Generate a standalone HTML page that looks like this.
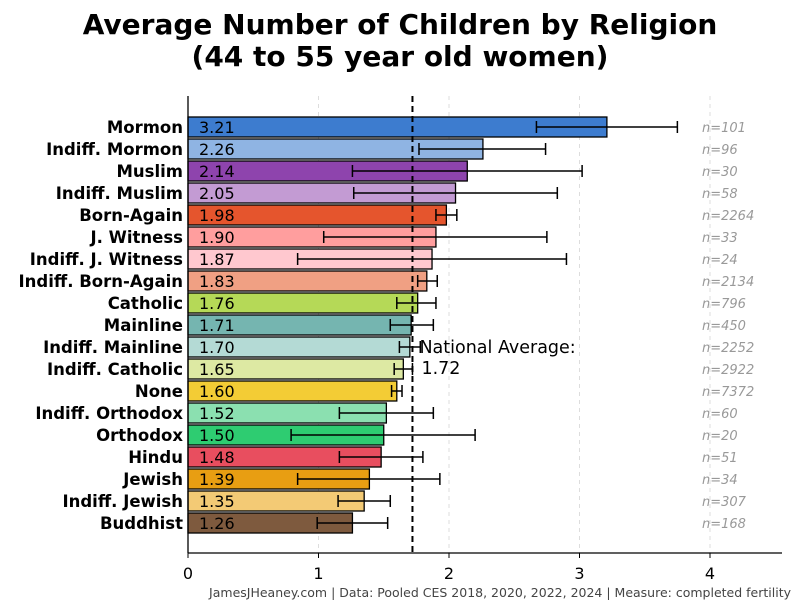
<!DOCTYPE html>
<html><head><meta charset="utf-8"><style>
body{margin:0;background:#fff;}
svg{display:block;font-family:"DejaVu Sans","Liberation Sans",sans-serif;}
</style></head><body>
<svg id="c" width="800" height="600">
<text x="400" y="34" text-anchor="middle" font-size="28" font-weight="bold">Average Number of Children by Religion</text>
<text x="400" y="66" text-anchor="middle" font-size="28" font-weight="bold">(44 to 55 year old women)</text>
<g id="grid"></g><g id="bars"></g>
<line x1="188" y1="96" x2="188" y2="553" stroke="#000" stroke-width="1.3"/>
<line x1="188" y1="553" x2="782" y2="553" stroke="#000" stroke-width="1.3"/>
<g id="ticks"></g>
<text x="791" y="597" text-anchor="end" font-size="12.5" fill="#444">JamesJHeaney.com | Data: Pooled CES 2018, 2020, 2022, 2024 | Measure: completed fertility</text>
</svg>
<script>
const categories=["Mormon","Indiff. Mormon","Muslim","Indiff. Muslim","Born-Again","J. Witness","Indiff. J. Witness","Indiff. Born-Again","Catholic","Mainline","Indiff. Mainline","Indiff. Catholic","None","Indiff. Orthodox","Orthodox","Hindu","Jewish","Indiff. Jewish","Buddhist"];
const values=[3.21,2.26,2.14,2.05,1.98,1.90,1.87,1.83,1.76,1.71,1.70,1.65,1.60,1.52,1.50,1.48,1.39,1.35,1.26];
const lows=[2.67,1.77,1.26,1.27,1.90,1.04,0.84,1.76,1.60,1.55,1.62,1.58,1.56,1.16,0.79,1.16,0.84,1.15,0.99];
const highs=[3.75,2.74,3.02,2.83,2.06,2.75,2.90,1.91,1.90,1.88,1.78,1.72,1.64,1.88,2.20,1.80,1.93,1.55,1.53];
const counts=[101,96,30,58,2264,33,24,2134,796,450,2252,2922,7372,60,20,51,34,307,168];
const colors=["#3d7ccf","#8fb4e3","#8e44ad","#c39bd3","#e5552d","#ff9e9e","#ffc8cf","#f0a083","#b5d957","#75b5b0","#b4dad5","#dde9a3","#f3cc35","#8be0b0","#2ecc71","#e84e5f","#e89e12","#f3ca75","#7e5a3e"];
const ticks=[0,1,2,3,4];
const natAvg=1.72;
const NS="http://www.w3.org/2000/svg";
const X=v=>188+v*130.5;
const Y=i=>127+i*22;
function mk(p,t,a){const e=document.createElementNS(NS,t);for(const k in a)e.setAttribute(k,a[k]);document.getElementById(p).appendChild(e);return e;}
ticks.forEach(t=>{
 if(t>0){const g=mk("grid","line",{x1:X(t),x2:X(t),y1:96,y2:553,stroke:"#ddd","stroke-dasharray":"4,4"});
 
 }
 const tk=mk("ticks","line",{x1:X(t),x2:X(t),y1:553,y2:558,stroke:"#000"});
 
 
 const tl=mk("ticks","text",{x:X(t),y:579,"text-anchor":"middle","font-size":16});tl.textContent=t;
 
 
});
categories.forEach((c,i)=>{
 const y=Y(i);
 const r=mk("bars","rect",{x:188,y:y-10,width:X(values[i])-188,height:20,fill:colors[i],stroke:"#000","stroke-width":1.3});
 
 
 const l=mk("bars","text",{x:183,y:y+6,"text-anchor":"end","font-size":16.5,"font-weight":"bold"});l.textContent=c;
 
 
 const v=mk("bars","text",{x:199,y:y+6,"font-size":16});v.textContent=values[i].toFixed(2);
 
 
 const e=mk("bars","path",{d:`M${X(lows[i])},${y}H${X(highs[i])}M${X(lows[i])},${y-6}V${y+6}M${X(highs[i])},${y-6}V${y+6}`,stroke:"#000","stroke-width":1.5,fill:"none"});
 
 
 const n=mk("bars","text",{x:702,y:y+5,"font-size":13,"font-style":"italic",fill:"#999"});n.textContent="n="+counts[i];
 
 
});
const a=mk("bars","line",{x1:X(natAvg),x2:X(natAvg),y1:96,y2:553,stroke:"#000","stroke-width":2,"stroke-dasharray":"6,4"});


const t1=mk("bars","text",{x:X(natAvg)+7,y:353,"font-size":17.5});t1.textContent="National Average:";


const t2=mk("bars","text",{x:X(natAvg)+9,y:374,"font-size":17.5});t2.textContent=natAvg.toFixed(2);


</script>
</body></html>
